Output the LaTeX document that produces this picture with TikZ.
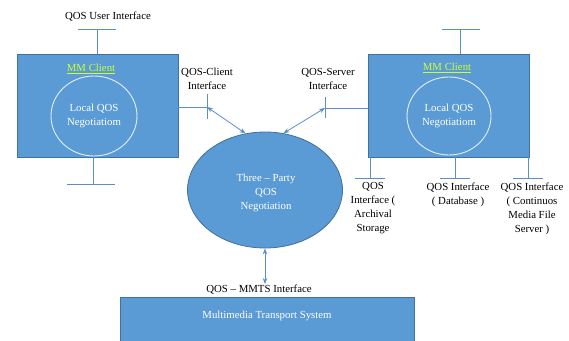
\documentclass[tikz,border=0pt]{standalone}
\usepackage{fontspec}
\setmainfont{Liberation Serif}
\usetikzlibrary{arrows.meta,shapes.geometric}
\definecolor{boxblue}{HTML}{5B9BD5}
\definecolor{edgeblue}{HTML}{41719C}
\definecolor{linkblue}{HTML}{5B8FC9}
\definecolor{mmgreen}{HTML}{CCFF33}
\definecolor{ringwhite}{HTML}{E4EEF8}

\begin{document}
\begin{tikzpicture}[x=1pt,y=-1pt,
  every node/.style={font=\fontsize{10.8}{14}\selectfont, inner sep=0pt},
  bluebox/.style={draw=edgeblue, fill=boxblue, line width=0.8pt, rectangle},
  ring/.style={draw=ringwhite, line width=0.9pt, ellipse, text=white, align=center},
  hub/.style={draw=edgeblue, fill=boxblue, line width=0.8pt, ellipse},
  wire/.style={draw=linkblue, line width=0.8pt},
  biarrow/.style={wire, {Stealth[length=6pt,width=4.5pt]}-{Stealth[length=6pt,width=4.5pt]}},
  tag/.style={align=center, text=black},
  mmlabel/.style={text=mmgreen}
]
\useasboundingbox (0,0) rectangle (569,340);

% ---- client boxes ----
\node[bluebox, minimum width=161pt, minimum height=103pt] (lbox) at (97.5,105.5) {};
\node[bluebox, minimum width=161pt, minimum height=103pt] (rbox) at (448.5,105.5) {};
\node[mmlabel] (lmm) at (91,69) {\underline{MM Client}};
\node[mmlabel] (rmm) at (447,68) {\underline{MM Client}};
\node[ring, minimum width=86pt, minimum height=80pt] (lneg) at (94,116) {Local QOS\\Negotiatiom};
\node[ring, minimum width=84pt, minimum height=78pt] (rneg) at (449,116) {Local QOS\\Negotiatiom};

% ---- central negotiation ----
\node[hub, minimum width=155pt, minimum height=116pt] (hub) at (265,190) {};
\node[text=white, align=center] (hubtext) at (266,193) {Three -- Party\\QOS\\Negotiation};

% ---- transport system ----
\node[bluebox, minimum width=294pt, minimum height=46pt] (mmts) at (267,320) {};
\node[text=white] (mmtstext) at (267,316) {Multimedia Transport System};

% ---- stubs with end bars ----
\coordinate (lup) at (97,29);
\draw[wire] (lup) -- (lup |- lbox.north);
\draw[wire] ([xshift=-19pt]lup) -- ([xshift=19pt]lup);
\coordinate (ldown) at (93,184);
\draw[wire] (ldown |- lbox.south) -- (ldown);
\draw[wire] ([xshift=-26pt]ldown) -- ([xshift=22pt]ldown);

\coordinate (rup) at (460,29);
\draw[wire] (rup) -- (rup |- rbox.north);
\draw[wire] ([xshift=-18pt]rup) -- ([xshift=20pt]rup);

\coordinate (rd1) at (370,178);
\coordinate (rd2) at (455,178);
\coordinate (rd3) at (528,178);
\foreach \c in {rd1,rd2,rd3}{
  \draw[wire] (\c |- rbox.south) -- (\c);
  \draw[wire] ([xshift=-15pt]\c) -- ([xshift=15pt]\c);
}

% ---- client / server interfaces ----
\coordinate (cif) at (207,107);
\draw[wire] (lbox.east |- cif) -- (cif);
\draw[wire] ([yshift=-12pt]cif) -- ([yshift=13pt]cif);
\coordinate (sif) at (325,108);
\draw[wire] (rbox.west |- sif) -- (sif);
\draw[wire] ([yshift=-10pt]sif) -- ([yshift=11pt]sif);

\draw[biarrow] (cif) -- (hub.109);
\draw[biarrow] (sif) -- (hub.72);

\coordinate (mif) at (265,284);
\draw[biarrow] (hub.south) -- (mif);

% ---- labels ----
\node[tag] (tuser) at (108,17) {QOS User Interface};
\node[tag] (tclient) at (207,79) {QOS-Client\\Interface};
\node[tag] (tserver) at (328,79) {QOS-Server\\Interface};
\node[tag] (tmmts) at (259,290) {QOS -- MMTS Interface};
\node[tag, anchor=north] (tarch) at (373,182) {QOS\\Interface (\\Archival\\Storage};
\node[tag, anchor=north] (tdb) at (458,183) {QOS Interface\\( Database )};
\node[tag, anchor=north] (tcmfs) at (532,183) {QOS Interface\\( Continuos\\Media File\\Server )};
\end{tikzpicture}
\end{document}
